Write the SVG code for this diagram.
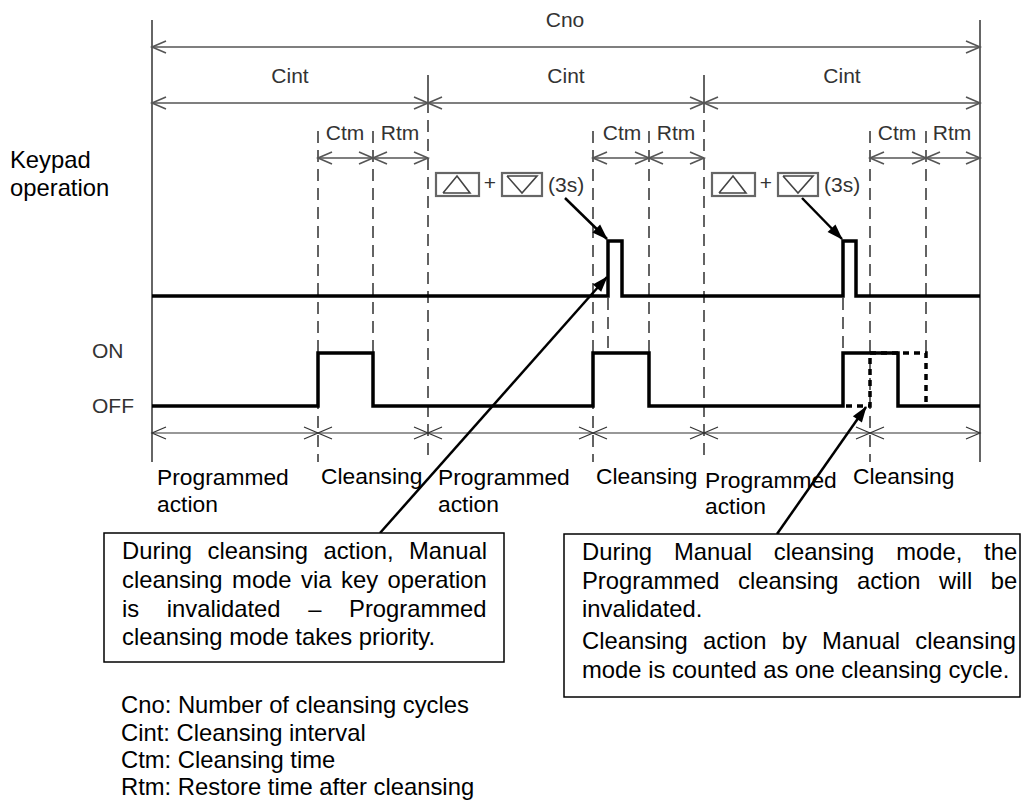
<svg xmlns="http://www.w3.org/2000/svg" width="1023" height="805" viewBox="0 0 1023 805">
<style>
.g{font-family:"Liberation Sans",Arial,sans-serif;font-size:21px;fill:#333}
.t{font-family:"Liberation Sans",Arial,sans-serif;font-size:23.8px;fill:#000}
.lb{font-family:"Liberation Sans",Arial,sans-serif;font-size:22.8px;fill:#000}
.dim{stroke:#555;stroke-width:1.6;fill:none;marker-start:url(#oa);marker-end:url(#oa)}
.dim2{stroke:#333;stroke-width:1.2;fill:none;marker-start:url(#oa2);marker-end:url(#oa2)}
.frame{stroke:#666;stroke-width:2;fill:none}
.dash{stroke:#222;stroke-width:1.4;stroke-dasharray:12,7;fill:none}
.wave{stroke:#000;stroke-width:3.5;fill:none;stroke-linejoin:miter}
.dot{stroke:#000;stroke-width:3.5;fill:none;stroke-dasharray:6,5}
.call{stroke:#000;stroke-width:2.5;fill:none;marker-end:url(#fa)}
.key{stroke:#666;stroke-width:2.2;fill:#fff}
.tri{stroke:#444;stroke-width:1.6;fill:none}
.box{stroke:#000;stroke-width:1.5;fill:#fff}
</style>
<defs>
<marker id="oa" viewBox="0 0 14 12" refX="14" refY="6" markerWidth="14" markerHeight="12" markerUnits="userSpaceOnUse" orient="auto-start-reverse" overflow="visible">
<path d="M0,0 L14,6 L0,12" fill="none" stroke="#555" stroke-width="1.6"/>
</marker>
<marker id="oa2" viewBox="0 0 14 12" refX="14" refY="6" markerWidth="14" markerHeight="12" markerUnits="userSpaceOnUse" orient="auto-start-reverse" overflow="visible">
<path d="M0,0 L14,6 L0,12" fill="none" stroke="#333" stroke-width="1.2"/>
</marker>
<marker id="fa" viewBox="0 0 16 11" refX="15" refY="5.5" markerWidth="16" markerHeight="11" markerUnits="userSpaceOnUse" orient="auto" overflow="visible">
<path d="M0,0 L16,5.5 L0,11 Z" fill="#000"/>
</marker>
</defs>
<rect width="1023" height="805" fill="#fff"/>

<g id="frame">
<line class="frame" x1="152" y1="20" x2="152" y2="462"/>
<line class="frame" x1="980" y1="20" x2="980" y2="462"/>
</g>

<g id="guides">
<line stroke="#222" stroke-width="1.4" x1="428" y1="75" x2="428" y2="113"/>
<line class="dash" x1="428" y1="120" x2="428" y2="462"/>
<line stroke="#222" stroke-width="1.4" x1="704" y1="75" x2="704" y2="113"/>
<line class="dash" x1="704" y1="120" x2="704" y2="462"/>
<line class="dash" x1="318" y1="131" x2="318" y2="462"/>
<line class="dash" x1="593" y1="131" x2="593" y2="462"/>
<line class="dash" x1="870" y1="131" x2="870" y2="462"/>
<line class="dash" x1="373" y1="131" x2="373" y2="353"/>
<line class="dash" x1="649" y1="131" x2="649" y2="353"/>
<line class="dash" x1="926" y1="131" x2="926" y2="353"/>
<line class="dash" x1="608" y1="298" x2="608" y2="351"/>
<line class="dash" x1="843" y1="298" x2="843" y2="353"/>
</g>

<g id="dimensions">
<line class="dim" x1="152" y1="47" x2="980" y2="47"/>
<line class="dim" x1="152" y1="103" x2="428" y2="103"/>
<line class="dim" x1="428" y1="103" x2="704" y2="103"/>
<line class="dim" x1="704" y1="103" x2="980" y2="103"/>
<line class="dim" x1="318" y1="158" x2="373" y2="158"/>
<line class="dim" x1="373" y1="158" x2="428" y2="158"/>
<line class="dim" x1="593" y1="158" x2="649" y2="158"/>
<line class="dim" x1="649" y1="158" x2="704" y2="158"/>
<line class="dim" x1="870" y1="158" x2="926" y2="158"/>
<line class="dim" x1="926" y1="158" x2="980" y2="158"/>
<line class="dim2" x1="152" y1="433" x2="318" y2="433"/>
<line class="dim2" x1="318" y1="433" x2="428" y2="433"/>
<line class="dim2" x1="428" y1="433" x2="593" y2="433"/>
<line class="dim2" x1="593" y1="433" x2="704" y2="433"/>
<line class="dim2" x1="704" y1="433" x2="870" y2="433"/>
<line class="dim2" x1="870" y1="433" x2="980" y2="433"/>
</g>

<g id="dim-labels">
<text class="g" x="565" y="27" text-anchor="middle">Cno</text>
<text class="g" x="290" y="83" text-anchor="middle">Cint</text>
<text class="g" x="566" y="83" text-anchor="middle">Cint</text>
<text class="g" x="842" y="83" text-anchor="middle">Cint</text>
<text class="g" x="345" y="140" text-anchor="middle">Ctm</text>
<text class="g" x="400" y="140" text-anchor="middle">Rtm</text>
<text class="g" x="622" y="140" text-anchor="middle">Ctm</text>
<text class="g" x="676" y="140" text-anchor="middle">Rtm</text>
<text class="g" x="897" y="140" text-anchor="middle">Ctm</text>
<text class="g" x="952" y="140" text-anchor="middle">Rtm</text>
</g>

<g id="keys1">
<rect class="key" x="436" y="173" width="43" height="23"/>
<polyline class="tri" points="443,193 457,176 470,193 443,193"/>
<text class="g" x="490" y="190" text-anchor="middle" font-size="16" fill="#555">+</text>
<rect class="key" x="502" y="173" width="40" height="23"/>
<polyline class="tri" points="507,176 537,176 522,193 507,176"/>
<text class="g" x="548" y="192">(3s)</text>
</g>
<g id="keys2">
<rect class="key" x="712" y="173" width="43" height="23"/>
<polyline class="tri" points="719,193 733,176 746,193 719,193"/>
<text class="g" x="766" y="190" text-anchor="middle" font-size="16" fill="#555">+</text>
<rect class="key" x="778" y="173" width="40" height="23"/>
<polyline class="tri" points="783,176 813,176 798,193 783,176"/>
<text class="g" x="824" y="192">(3s)</text>
</g>

<g id="signals">
<path class="wave" d="M152,296 H608 V241 H622 V296 H843 V241 H856 V296 H980"/>
<path class="wave" d="M152,406 H318 V353 H373 V406 H593 V353 H649 V406 H843 V353 H898 V406 H980"/>
<path class="dot" d="M846,406 H870 V353 H926 V406"/>
</g>

<g id="axis-labels">
<text class="t" x="10" y="168">Keypad</text>
<text class="t" x="10" y="196">operation</text>
<text class="g" x="92" y="358">ON</text>
<text class="g" x="92" y="413">OFF</text>
</g>

<g id="phase-labels">
<text class="lb" x="157" y="485">Programmed</text>
<text class="lb" x="157" y="512">action</text>
<text class="lb" x="321" y="484">Cleansing</text>
<text class="lb" x="438" y="485">Programmed</text>
<text class="lb" x="438" y="512">action</text>
<text class="lb" x="596" y="484">Cleansing</text>
<text class="lb" x="705" y="488">Programmed</text>
<text class="lb" x="705" y="514">action</text>
<text class="lb" x="853" y="484">Cleansing</text>
</g>

<g id="connectors">
<line class="call" x1="565" y1="198" x2="607" y2="239"/>
<line class="call" x1="802" y1="198" x2="842" y2="239"/>
<line class="call" x1="380" y1="533" x2="607" y2="277"/>
<line class="call" x1="777" y1="534" x2="866" y2="407"/>
</g>

<g id="note1">
<rect class="box" x="104" y="533" width="400" height="129"/>
<text class="t" x="122" y="559" word-spacing="8.8">During cleansing action, Manual</text>
<text class="t" x="122" y="588" word-spacing="2.9">cleansing mode via key operation</text>
<text class="t" x="122" y="617" word-spacing="21">is invalidated – Programmed</text>
<text class="t" x="122" y="645">cleansing mode takes priority.</text>
</g>

<g id="note2">
<rect class="box" x="564" y="534" width="456" height="163"/>
<text class="t" x="582" y="560" word-spacing="15.2">During Manual cleansing mode, the</text>
<text class="t" x="582" y="589" word-spacing="11.9">Programmed cleansing action will be</text>
<text class="t" x="582" y="617">invalidated.</text>
<text class="t" x="582" y="649" word-spacing="8.6">Cleansing action by Manual cleansing</text>
<text class="t" x="582" y="678">mode is counted as one cleansing cycle.</text>
</g>

<g id="legend">
<text class="t" x="121" y="713">Cno: Number of cleansing cycles</text>
<text class="t" x="121" y="741">Cint: Cleansing interval</text>
<text class="t" x="121" y="768">Ctm: Cleansing time</text>
<text class="t" x="121" y="795">Rtm: Restore time after cleansing</text>
</g>
</svg>
